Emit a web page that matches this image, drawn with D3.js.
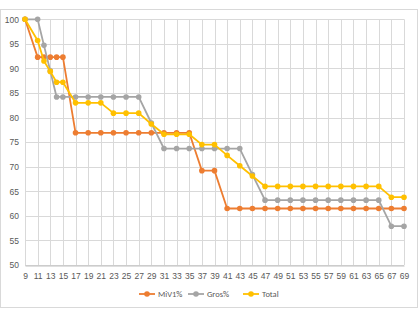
<!DOCTYPE html>
<style>
body { margin: 0; background: #fff; }
svg { display: block; font-family: Calibri, Carlito, "Liberation Sans", sans-serif; }
.grid line { stroke: #d9d9d9; stroke-width: 1; }
.tick text { fill: #595959; font-size: 8.5px; }
.legend text { fill: #595959; font-size: 8.5px; }
</style>
<svg width="420" height="309"></svg>
<script src="https://cdnjs.cloudflare.com/ajax/libs/d3/7.8.5/d3.min.js"></script>
<script>

var xs = [9, 11, 12, 13, 14, 15, 17, 19, 21, 23, 25, 27, 29, 31, 33, 35, 37, 39, 41, 43, 45, 47, 49, 51, 53, 55, 57, 59, 61, 63, 65, 67, 69];

var miv = [100, 92.3, 92.3, 92.3, 92.3, 92.3, 76.9, 76.9, 76.9, 76.9, 76.9, 76.9, 76.9, 76.9, 76.9, 76.9, 69.2, 69.2, 61.5, 61.5, 61.5, 61.5, 61.5, 61.5, 61.5, 61.5, 61.5, 61.5, 61.5, 61.5, 61.5, 61.5, 61.5];
var gros = [100, 100, 94.7, 89.5, 84.2, 84.2, 84.2, 84.2, 84.2, 84.2, 84.2, 84.2, 78.9, 73.7, 73.7, 73.7, 73.7, 73.7, 73.7, 73.7, 68.4, 63.2, 63.2, 63.2, 63.2, 63.2, 63.2, 63.2, 63.2, 63.2, 63.2, 57.9, 57.9];
var total = [100, 95.7, 91.5, 89.4, 87.2, 87.2, 83.0, 83.0, 83.0, 80.9, 80.9, 80.9, 78.7, 76.6, 76.6, 76.6, 74.5, 74.5, 72.3, 70.2, 68.1, 66.0, 66.0, 66.0, 66.0, 66.0, 66.0, 66.0, 66.0, 66.0, 66.0, 63.8, 63.8];

var xTicks = d3.range(9, 70, 2);
var yTicks = d3.range(50, 101, 5);

var series = [
  { name: "MiV1%", values: miv, color: "#ED7D31" },
  { name: "Gros%", values: gros, color: "#A5A5A5" },
  { name: "Total", values: total, color: "#FFC000" }
];

var svg = d3.select("svg");

// chart border
svg.append("rect")
  .attr("x", 0.5).attr("y", 9.5)
  .attr("width", 417).attr("height", 298)
  .attr("fill", "none").attr("stroke", "#d9d9d9");

var x = d3.scaleLinear().domain([9, 69]).range([25, 404]);
var y = d3.scaleLinear().domain([50, 100]).range([265, 19.3]);

// gridlines
var grid = svg.append("g").attr("class", "grid");
grid.selectAll(".hg").data(yTicks).join("line")
  .attr("x1", x(9)).attr("x2", x(69))
  .attr("y1", d => Math.round(y(d)) + 0.5).attr("y2", d => Math.round(y(d)) + 0.5);
grid.selectAll(".vg").data(xTicks).join("line")
  .attr("x1", d => Math.round(x(d)) + 0.5).attr("x2", d => Math.round(x(d)) + 0.5)
  .attr("y1", y(100)).attr("y2", y(50));

// axes
var yAxis = svg.append("g")
  .attr("transform", "translate(" + x(9) + ",0)")
  .call(d3.axisLeft(y).tickValues(yTicks).tickSize(0).tickPadding(6));
yAxis.select(".domain").remove();

var xAxis = svg.append("g")
  .attr("transform", "translate(0," + (Math.round(y(50)) + 0.5) + ")")
  .call(d3.axisBottom(x).tickValues(xTicks).tickSize(0).tickPadding(7));
xAxis.select(".domain").attr("stroke", "#bfbfbf");

// lines and markers
var line = d3.line().x((d, i) => x(xs[i])).y(d => y(d));

series.forEach(s => {
  var g = svg.append("g");
  g.append("path")
    .attr("d", line(s.values))
    .attr("fill", "none")
    .attr("stroke", s.color)
    .attr("stroke-width", 1.8)
    .attr("stroke-linejoin", "round");
  g.selectAll("circle").data(s.values).join("circle")
    .attr("cx", (d, i) => x(xs[i]))
    .attr("cy", d => y(d))
    .attr("r", 2.8)
    .attr("fill", s.color);
});

// legend
var legendX = [139, 188, 243];
var legend = svg.append("g").attr("class", "legend");
series.forEach((s, i) => {
  var lg = legend.append("g").attr("transform", "translate(" + legendX[i] + ",294)");
  lg.append("line").attr("x1", 0).attr("x2", 16).attr("stroke", s.color).attr("stroke-width", 1.8);
  lg.append("circle").attr("cx", 8).attr("r", 2.8).attr("fill", s.color);
  lg.append("text").attr("x", 19).attr("dy", "0.35em").text(s.name);
});
</script>
